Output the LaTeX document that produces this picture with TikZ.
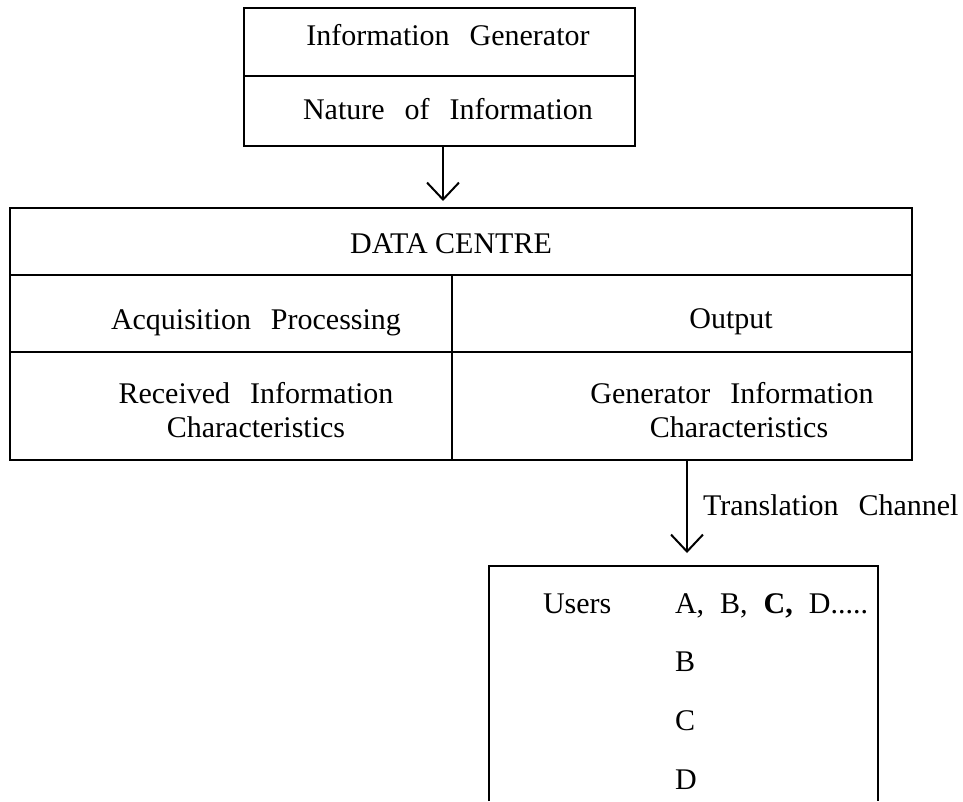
\documentclass[tikz,border=0pt]{standalone}
\usepackage{fontspec}
\setmainfont{Liberation Serif}
\usetikzlibrary{arrows.meta}
\newcommand\wgap{\hspace{20pt}}
\newcommand\ugap{\hspace{16pt}}
\tikzset{
  every node/.style={font=\fontsize{30}{36}\selectfont, inner sep=0pt, outer sep=0pt},
  boxline/.style={line width=2.2pt},
  txt/.style={anchor=base},
  ltxt/.style={anchor=base west},
  arr/.style={line width=2pt, -{Straight Barb[length=17pt,width=32pt,line width=2pt]}}
}
\begin{document}
\begin{tikzpicture}[x=1pt,y=-1pt]
\useasboundingbox (0,0) rectangle (963,801);
% top box
\node[draw, boxline, minimum width=391pt, minimum height=138pt] (gen) at (439.5,77) {};
\draw[boxline] (gen.west |- 0,76) -- (gen.east |- 0,76);
\node[txt] (t1) at (448,45) {Information\wgap Generator};
\node[txt] (t2) at (448,119) {Nature\wgap of\wgap Information};
% data centre box
\node[draw, boxline, minimum width=902pt, minimum height=252pt] (dc) at (461,334) {};
\draw[boxline] (dc.west |- 0,275) -- (dc.east |- 0,275);
\draw[boxline] (dc.west |- 0,352) -- (dc.east |- 0,352);
\draw[boxline] (452,275) -- (dc.south -| 452,0);
\node[txt] (d0) at (451,253) {DATA CENTRE};
\node[txt] (d1) at (256,329) {Acquisition\wgap Processing};
\node[txt] (d2) at (731,328) {Output};
\node[txt] (d3) at (256,403) {Received\wgap Information};
\node[txt] (d4) at (256,437) {Characteristics};
\node[txt] (d5) at (732,403) {Generator\wgap Information};
\node[txt] (d6) at (739,437) {Characteristics};
% arrow 1
\coordinate (a1) at (443,0);
\draw[arr] (a1 |- gen.south) -- ([yshift=7pt]a1 |- dc.north);
% users box (open at bottom)
\coordinate (ubl) at (489,801);
\coordinate (ubtl) at (489,566);
\coordinate (ubtr) at (878,566);
\coordinate (ubr) at (878,801);
\coordinate (utop) at (687,566);
\draw[boxline] (ubl) -- (ubtl) -- (ubtr) -- (ubr);
% arrow 2
\coordinate (a2) at (687,0);
\draw[arr] (a2 |- dc.south) -- ([yshift=13pt]utop);
\node[ltxt] (tc) at (703,515) {Translation\wgap Channel};
% users text
\node[ltxt] (u0) at (543,613) {Users};
\node[ltxt] (u1) at (675,613) {A,\ugap B,\ugap \textbf{C,}\ugap D.....};
\node[ltxt] (u2) at (675,671) {B};
\node[ltxt] (u3) at (675,730) {C};
\node[ltxt] (u4) at (675,789) {D};
\end{tikzpicture}
\end{document}
